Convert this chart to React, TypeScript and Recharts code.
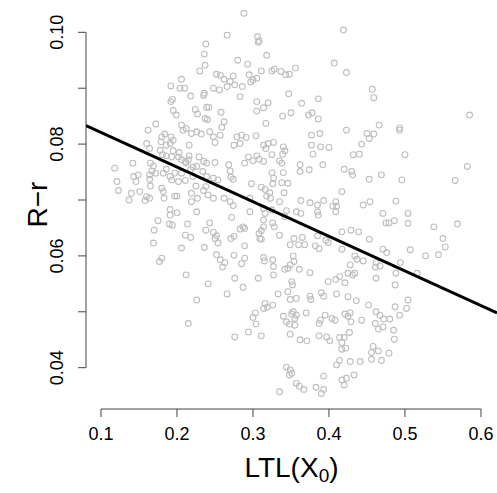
import { ScatterChart, Scatter, XAxis, YAxis, ReferenceLine, Label } from 'recharts';

// LTL(X0) vs R-r
const obs: [number, number][] = [
  [0.266, 0.0995], [0.238, 0.0979], [0.236, 0.0961], [0.237, 0.0941], [0.230, 0.0931], [0.206, 0.0916],
  [0.192, 0.0904], [0.204, 0.0900], [0.210, 0.0900], [0.218, 0.0886], [0.236, 0.0891], [0.235, 0.0887],
  [0.252, 0.0925], [0.257, 0.0923], [0.262, 0.0916], [0.270, 0.0912], [0.274, 0.0922], [0.248, 0.0900],
  [0.256, 0.0897], [0.266, 0.0903], [0.194, 0.0880], [0.192, 0.0876], [0.195, 0.0860], [0.199, 0.0852],
  [0.224, 0.0862], [0.227, 0.0854], [0.239, 0.0866], [0.242, 0.0866], [0.258, 0.0857], [0.237, 0.0846],
  [0.240, 0.0844], [0.262, 0.0840], [0.259, 0.0830], [0.206, 0.0834], [0.212, 0.0828], [0.172, 0.0836],
  [0.288, 0.1034], [0.419, 0.1004], [0.306, 0.0992], [0.308, 0.0985], [0.307, 0.0982], [0.318, 0.0959],
  [0.280, 0.0950], [0.293, 0.0943], [0.407, 0.0945], [0.423, 0.0928], [0.356, 0.0936], [0.311, 0.0931],
  [0.325, 0.0931], [0.328, 0.0934], [0.337, 0.0930], [0.343, 0.0924], [0.348, 0.0925], [0.295, 0.0924],
  [0.305, 0.0918], [0.297, 0.0911], [0.300, 0.0915], [0.276, 0.0906], [0.286, 0.0903], [0.283, 0.0885],
  [0.347, 0.0890], [0.305, 0.0876], [0.320, 0.0874], [0.314, 0.0865], [0.305, 0.0859], [0.364, 0.0873],
  [0.386, 0.0881], [0.339, 0.0850], [0.350, 0.0856], [0.373, 0.0852], [0.378, 0.0856], [0.386, 0.0845],
  [0.317, 0.0837], [0.457, 0.0898], [0.459, 0.0883], [0.585, 0.0852], [0.466, 0.0834], [0.493, 0.0829],
  [0.162, 0.0825], [0.180, 0.0813], [0.184, 0.0818], [0.192, 0.0813], [0.195, 0.0807], [0.179, 0.0804],
  [0.186, 0.0798], [0.191, 0.0801], [0.160, 0.0801], [0.164, 0.0792], [0.216, 0.0798], [0.208, 0.0825],
  [0.219, 0.0819], [0.226, 0.0822], [0.232, 0.0818], [0.243, 0.0822], [0.248, 0.0813], [0.257, 0.0816],
  [0.250, 0.0803], [0.275, 0.0798], [0.178, 0.0789], [0.181, 0.0781], [0.186, 0.0779], [0.193, 0.0777],
  [0.202, 0.0777], [0.206, 0.0772], [0.216, 0.0779], [0.195, 0.0788], [0.203, 0.0785], [0.211, 0.0769],
  [0.215, 0.0772], [0.212, 0.0766], [0.229, 0.0777], [0.235, 0.0769], [0.239, 0.0766], [0.250, 0.0767],
  [0.226, 0.0760], [0.221, 0.0759], [0.268, 0.0763], [0.118, 0.0757], [0.142, 0.0766], [0.165, 0.0766],
  [0.169, 0.0761], [0.167, 0.0752], [0.164, 0.0745], [0.172, 0.0748], [0.164, 0.0737], [0.149, 0.0745],
  [0.143, 0.0742], [0.146, 0.0733], [0.121, 0.0733], [0.123, 0.0717], [0.186, 0.0755], [0.191, 0.0742],
  [0.193, 0.0736], [0.202, 0.0733], [0.211, 0.0735], [0.182, 0.0748], [0.197, 0.0748], [0.206, 0.0748],
  [0.218, 0.0754], [0.221, 0.0742], [0.234, 0.0751], [0.239, 0.0742], [0.248, 0.0739], [0.254, 0.0736],
  [0.270, 0.0752], [0.271, 0.0741], [0.274, 0.0737], [0.165, 0.0725], [0.151, 0.0715], [0.180, 0.0721],
  [0.182, 0.0715], [0.140, 0.0712], [0.137, 0.0700], [0.160, 0.0706], [0.158, 0.0699], [0.164, 0.0703],
  [0.183, 0.0703], [0.197, 0.0707], [0.200, 0.0707], [0.219, 0.0712], [0.219, 0.0697], [0.227, 0.0703],
  [0.225, 0.0725], [0.238, 0.0724], [0.235, 0.0717], [0.241, 0.0709], [0.248, 0.0703], [0.262, 0.0703],
  [0.270, 0.0697], [0.274, 0.0690], [0.191, 0.0683], [0.191, 0.0673], [0.200, 0.0677], [0.226, 0.0679],
  [0.175, 0.0663], [0.190, 0.0657], [0.194, 0.0655], [0.214, 0.0657], [0.243, 0.0659], [0.272, 0.0669],
  [0.170, 0.0646], [0.169, 0.0623], [0.211, 0.0637], [0.218, 0.0633], [0.238, 0.0646], [0.248, 0.0642],
  [0.252, 0.0636], [0.250, 0.0631], [0.275, 0.0635], [0.271, 0.0631], [0.254, 0.0623], [0.206, 0.0614],
  [0.236, 0.0615], [0.252, 0.0602], [0.257, 0.0593], [0.275, 0.0601], [0.180, 0.0596], [0.177, 0.0590],
  [0.263, 0.0588], [0.279, 0.0813], [0.285, 0.0816], [0.291, 0.0812], [0.304, 0.0815], [0.283, 0.0801],
  [0.314, 0.0798], [0.320, 0.0801], [0.327, 0.0803], [0.317, 0.0792], [0.340, 0.0795], [0.342, 0.0788],
  [0.339, 0.0782], [0.325, 0.0781], [0.294, 0.0777], [0.305, 0.0779], [0.308, 0.0773], [0.314, 0.0769],
  [0.289, 0.0766], [0.300, 0.0770], [0.335, 0.0770], [0.338, 0.0766], [0.377, 0.0816], [0.388, 0.0819],
  [0.423, 0.0825], [0.377, 0.0798], [0.389, 0.0795], [0.400, 0.0794], [0.379, 0.0782], [0.443, 0.0800],
  [0.432, 0.0781], [0.440, 0.0782], [0.362, 0.0763], [0.362, 0.0751], [0.374, 0.0754], [0.392, 0.0763],
  [0.420, 0.0755], [0.430, 0.0751], [0.431, 0.0745], [0.340, 0.0749], [0.325, 0.0749], [0.327, 0.0739],
  [0.298, 0.0729], [0.311, 0.0723], [0.316, 0.0719], [0.326, 0.0729], [0.338, 0.0731], [0.346, 0.0730],
  [0.322, 0.0713], [0.318, 0.0707], [0.323, 0.0703], [0.341, 0.0713], [0.417, 0.0715], [0.296, 0.0703],
  [0.296, 0.0679], [0.335, 0.0697], [0.363, 0.0699], [0.375, 0.0695], [0.385, 0.0691], [0.393, 0.0699],
  [0.405, 0.0689], [0.409, 0.0697], [0.410, 0.0689], [0.409, 0.0679], [0.445, 0.0691], [0.314, 0.0685],
  [0.316, 0.0676], [0.325, 0.0682], [0.344, 0.0681], [0.342, 0.0670], [0.357, 0.0679], [0.363, 0.0676],
  [0.385, 0.0679], [0.386, 0.0673], [0.314, 0.0664], [0.326, 0.0659], [0.287, 0.0652], [0.289, 0.0649],
  [0.283, 0.0648], [0.314, 0.0652], [0.311, 0.0645], [0.308, 0.0640], [0.328, 0.0652], [0.335, 0.0637],
  [0.309, 0.0631], [0.311, 0.0630], [0.289, 0.0618], [0.354, 0.0631], [0.365, 0.0633], [0.349, 0.0620],
  [0.360, 0.0620], [0.368, 0.0620], [0.385, 0.0636], [0.396, 0.0628], [0.399, 0.0624], [0.382, 0.0618],
  [0.387, 0.0613], [0.417, 0.0643], [0.429, 0.0646], [0.439, 0.0643], [0.417, 0.0612], [0.289, 0.0596],
  [0.314, 0.0597], [0.315, 0.0591], [0.326, 0.0593], [0.353, 0.0600], [0.354, 0.0590], [0.434, 0.0600],
  [0.437, 0.0594], [0.493, 0.0825], [0.450, 0.0819], [0.459, 0.0818], [0.453, 0.0810], [0.500, 0.0781],
  [0.582, 0.0760], [0.469, 0.0745], [0.453, 0.0737], [0.496, 0.0736], [0.566, 0.0735], [0.488, 0.0698],
  [0.454, 0.0697], [0.471, 0.0676], [0.504, 0.0676], [0.475, 0.0659], [0.479, 0.0659], [0.486, 0.0663],
  [0.504, 0.0658], [0.538, 0.0652], [0.569, 0.0657], [0.453, 0.0630], [0.550, 0.0631], [0.553, 0.0616],
  [0.471, 0.0612], [0.476, 0.0606], [0.507, 0.0611], [0.527, 0.0600], [0.544, 0.0602], [0.462, 0.0588],
  [0.445, 0.0591], [0.494, 0.0588], [0.212, 0.0566], [0.241, 0.0550], [0.226, 0.0521], [0.266, 0.0532],
  [0.260, 0.0580], [0.276, 0.0560], [0.215, 0.0479], [0.276, 0.0455], [0.285, 0.0586], [0.327, 0.0581],
  [0.342, 0.0576], [0.346, 0.0578], [0.349, 0.0584], [0.361, 0.0576], [0.307, 0.0560], [0.327, 0.0566],
  [0.375, 0.0570], [0.428, 0.0584], [0.399, 0.0554], [0.409, 0.0558], [0.414, 0.0563], [0.421, 0.0552],
  [0.425, 0.0569], [0.431, 0.0566], [0.434, 0.0569], [0.351, 0.0554], [0.352, 0.0548], [0.287, 0.0544],
  [0.346, 0.0536], [0.333, 0.0532], [0.375, 0.0528], [0.376, 0.0522], [0.390, 0.0534], [0.393, 0.0528],
  [0.410, 0.0532], [0.425, 0.0527], [0.436, 0.0520], [0.349, 0.0522], [0.357, 0.0524], [0.316, 0.0515],
  [0.319, 0.0508], [0.326, 0.0512], [0.314, 0.0506], [0.303, 0.0498], [0.300, 0.0490], [0.304, 0.0478],
  [0.353, 0.0500], [0.351, 0.0496], [0.357, 0.0494], [0.355, 0.0488], [0.340, 0.0492], [0.344, 0.0482],
  [0.348, 0.0478], [0.355, 0.0476], [0.370, 0.0498], [0.389, 0.0485], [0.395, 0.0494], [0.387, 0.0479],
  [0.404, 0.0488], [0.408, 0.0485], [0.421, 0.0496], [0.428, 0.0498], [0.425, 0.0492], [0.429, 0.0482],
  [0.443, 0.0485], [0.294, 0.0464], [0.311, 0.0457], [0.349, 0.0460], [0.362, 0.0450], [0.371, 0.0448],
  [0.387, 0.0457], [0.397, 0.0455], [0.401, 0.0448], [0.414, 0.0454], [0.420, 0.0454], [0.417, 0.0445],
  [0.417, 0.0433], [0.422, 0.0435], [0.427, 0.0463], [0.414, 0.0413], [0.410, 0.0405], [0.428, 0.0411],
  [0.441, 0.0411], [0.344, 0.0401], [0.349, 0.0396], [0.348, 0.0387], [0.351, 0.0390], [0.393, 0.0385],
  [0.417, 0.0378], [0.423, 0.0381], [0.433, 0.0387], [0.420, 0.0369], [0.357, 0.0372], [0.361, 0.0367],
  [0.367, 0.0361], [0.383, 0.0365], [0.393, 0.0361], [0.335, 0.0357], [0.390, 0.0354], [0.467, 0.0582],
  [0.461, 0.0580], [0.488, 0.0569], [0.516, 0.0569], [0.462, 0.0560], [0.487, 0.0548], [0.452, 0.0512],
  [0.487, 0.0509], [0.502, 0.0506], [0.504, 0.0521], [0.462, 0.0500], [0.467, 0.0494], [0.493, 0.0494],
  [0.472, 0.0487], [0.480, 0.0487], [0.461, 0.0479], [0.465, 0.0469], [0.471, 0.0473], [0.485, 0.0467],
  [0.486, 0.0451], [0.458, 0.0438], [0.456, 0.0427], [0.465, 0.0430], [0.479, 0.0426], [0.456, 0.0415],
  [0.469, 0.0413],
];

// least-squares line as drawn in the picture (end points at the plot edges)
const fitX = [0.0803, 0.6211];
const fitY = [0.0833, 0.0498];

const xTicks = [0.1, 0.2, 0.3, 0.4, 0.5, 0.6];
const yTicks = [0.04, 0.05, 0.06, 0.07, 0.08, 0.09, 0.1];
const yLabelled = [0.04, 0.06, 0.08, 0.1];

const xDomain: [number, number] = [0.0803, 0.6211];
const yDomain: [number, number] = [0.03261, 0.10578];

const FONT = '"Liberation Sans", Arial, Helvetica, sans-serif';
const AXIS = '#444';

const pts = obs.map(([x, y]) => ({ x, y }));
const fit = fitX.map((x, i) => ({ x, y: fitY[i] }));

function Ring(p: any) {
  if (p.cx == null || p.cy == null) return <g />;
  return <circle cx={p.cx} cy={p.cy} r={2.9} fill="none" stroke="#bebebe" strokeWidth={1.1} />;
}

function YTick(p: any) {
  const v = p.payload.value;
  if (!yLabelled.some((t) => Math.abs(t - v) < 1e-9)) return <g />;
  const bx = p.x - 15;
  return (
    <text x={bx} y={p.y} transform={`rotate(-90 ${bx} ${p.y})`} textAnchor="middle" fontSize={18} fill="#000" fontFamily={FONT}>
      {v.toFixed(2)}
    </text>
  );
}

function XTitle(p: any) {
  const vb = p.viewBox;
  return (
    <text x={vb.x + vb.width / 2} y={vb.y + 68} textAnchor="middle" fontSize={28} fill="#000" fontFamily={FONT}>
      LTL(X<tspan fontSize={19} dy={5}>0</tspan><tspan dy={-5}>)</tspan>
    </text>
  );
}

function YTitle(p: any) {
  const vb = p.viewBox;
  const cy = vb.y + vb.height / 2;
  return (
    <text x={46.5} y={cy} transform={`rotate(-90 46.5 ${cy})`} textAnchor="middle" fontSize={28} fill="#000" fontFamily={FONT}>
      R{'\u2212'}r
    </text>
  );
}

export default function App() {
  return (
    <div style={{ position: 'fixed', left: 0, top: 0, width: 497, height: 493, background: '#fff', fontFamily: FONT }}>
      <ScatterChart width={497} height={493} margin={{ top: 0, right: 0, bottom: 0, left: 0 }}>
        <XAxis
          dataKey="x" type="number" domain={xDomain} allowDataOverflow ticks={xTicks} interval={0}
          height={84} tickSize={8} tickMargin={10} axisLine={false} tickLine={{ stroke: AXIS }}
          tick={{ fontSize: 18, fill: '#000', fontFamily: FONT }} tickFormatter={(v: number) => String(v)}
        >
          <Label content={XTitle} />
        </XAxis>
        <YAxis
          dataKey="y" type="number" domain={yDomain} allowDataOverflow ticks={yTicks} interval={0}
          width={86} tickSize={8} tickMargin={0} axisLine={false} tickLine={{ stroke: AXIS }} tick={<YTick />}
        >
          <Label content={YTitle} />
        </YAxis>
        <ReferenceLine segment={[{ x: 0.1, y: yDomain[0] }, { x: 0.6, y: yDomain[0] }]} stroke={AXIS} strokeWidth={1} ifOverflow="visible" />
        <ReferenceLine segment={[{ x: xDomain[0], y: 0.04 }, { x: xDomain[0], y: 0.1 }]} stroke={AXIS} strokeWidth={1} ifOverflow="visible" />
        <Scatter data={pts} shape={<Ring />} isAnimationActive={false} />
        <Scatter data={fit} line={{ stroke: '#000', strokeWidth: 3 }} lineType="joint" shape={() => <g />} isAnimationActive={false} />
      </ScatterChart>
    </div>
  );
}
